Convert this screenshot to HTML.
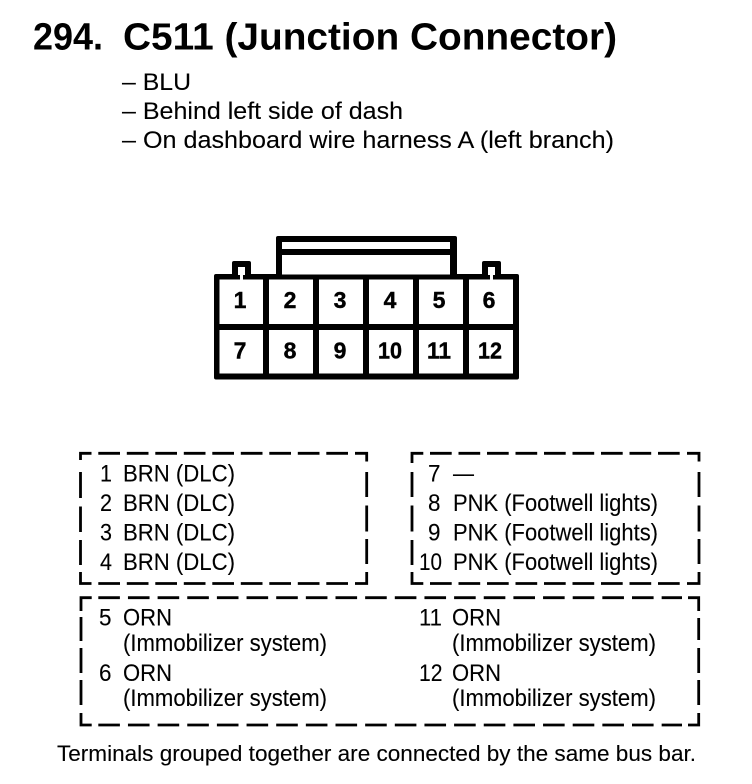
<!DOCTYPE html>
<html><head><meta charset="utf-8"><style>
html,body{margin:0;padding:0;background:#fff}
svg{display:block}
text{font-family:"Liberation Sans",sans-serif;fill:#000;transform:translateY(.8px)}
.t{font-size:24.5px;stroke:#000;stroke-width:.1}
.n{font-size:23px;font-weight:bold;text-anchor:middle;stroke:#000;stroke-width:.4}
.d{fill:none;stroke:#000;stroke-width:2.8}
</style></head><body>
<svg width="752" height="784" viewBox="0 0 752 784" xmlns="http://www.w3.org/2000/svg">
<rect width="752" height="784" fill="#fff"/>
<text x="33" y="48.5" font-size="38" font-weight="bold" textLength="70" lengthAdjust="spacingAndGlyphs">294.</text>
<text x="123" y="48.5" font-size="38" font-weight="bold" textLength="494" lengthAdjust="spacingAndGlyphs">C511 (Junction Connector)</text>
<text class="t" x="122" y="89" textLength="69" lengthAdjust="spacingAndGlyphs">– BLU</text>
<text class="t" x="122" y="118" textLength="281" lengthAdjust="spacingAndGlyphs">– Behind left side of dash</text>
<text class="t" x="122" y="147" textLength="492" lengthAdjust="spacingAndGlyphs">– On dashboard wire harness A (left branch)</text>

<g fill="#000">
<rect x="276" y="236" width="181" height="42" rx="2"/>
<rect x="232" y="261" width="19" height="18" rx="2"/>
<rect x="482" y="261" width="19" height="18" rx="2"/>
<rect x="214" y="274" width="305" height="105.500" rx="2"/>
</g>
<g fill="#fff">
<rect x="282" y="242" width="168" height="7"/>
<rect x="282" y="255" width="168" height="19.500"/>
<rect x="238" y="267" width="7" height="8"/>
<rect x="488" y="267" width="7" height="8"/>
<rect x="240" y="275" width="3" height="5"/>
<rect x="490" y="275" width="3" height="5"/>
<rect x="219.500" y="279.500" width="43.500" height="44.500"/><rect x="269" y="279.500" width="44" height="44.500"/><rect x="319" y="279.500" width="44" height="44.500"/><rect x="369" y="279.500" width="44" height="44.500"/><rect x="419" y="279.500" width="44" height="44.500"/><rect x="469" y="279.500" width="44" height="44.500"/>
<rect x="219.500" y="330" width="43.500" height="43.500"/><rect x="269" y="330" width="44" height="43.500"/><rect x="319" y="330" width="44" height="43.500"/><rect x="369" y="330" width="44" height="43.500"/><rect x="419" y="330" width="44" height="43.500"/><rect x="469" y="330" width="44" height="43.500"/>
</g>
<g>
<text class="n" x="240" y="307">1</text><text class="n" x="290" y="307">2</text><text class="n" x="340" y="307">3</text><text class="n" x="390" y="307">4</text><text class="n" x="439" y="307">5</text><text class="n" x="489" y="307">6</text>
<text class="n" x="240" y="357.500">7</text><text class="n" x="290" y="357.500">8</text><text class="n" x="340" y="357.500">9</text><text class="n" x="390" y="357.500" textLength="24" lengthAdjust="spacingAndGlyphs">10</text><text class="n" x="439" y="357.500" textLength="24" lengthAdjust="spacingAndGlyphs">11</text><text class="n" x="490" y="357.500" textLength="24" lengthAdjust="spacingAndGlyphs">12</text>
</g>

<!-- box 1 -->
<path class="d" d="M91.500 453.300H80.500V460M355 453.300H366.700V461.500M80.500 572V583.500H91.500M355 583.500H366.700V572"/>
<path class="d" d="M98.300 453.300H349M98.300 583.500H349" stroke-dasharray="21.700 6.800"/>
<path class="d" d="M80.500 472V498M80.500 506.500V532M80.500 540V565M366.700 472V497M366.700 505.500V531.500M366.700 539V564"/>
<!-- box 2 -->
<path class="d" d="M423.300 453.300H412V463M687 453.300H699V461.500M412 572V583.500H423.300M687 583.500H699V572"/>
<path class="d" d="M430 453.300H680M430 583.500H680" stroke-dasharray="21.700 6.800"/>
<path class="d" d="M412 472V497M412 505.500V531.500M412 540V565M699 472V497M699 505.500V531.500M699 539V564"/>
<!-- box 3 -->
<path class="d" d="M91.700 597.700H81V611M688 597.700H698.700V611M81 713V725H91.700M688 725H698.700V713"/>
<path class="d" d="M98.300 597.700H682M98.300 725H682" stroke-dasharray="21.600 8.050"/>
<path class="d" d="M81 617V641M81 648V673M81 680V705M698.700 618V640M698.700 648V673M698.700 680V705"/>

<text class="t" x="100" y="480.500" textLength="12" lengthAdjust="spacingAndGlyphs">1</text><text class="t" x="123" y="480.500" textLength="112" lengthAdjust="spacingAndGlyphs">BRN (DLC)</text>
<text class="t" x="100" y="510" textLength="12" lengthAdjust="spacingAndGlyphs">2</text><text class="t" x="123" y="510" textLength="112" lengthAdjust="spacingAndGlyphs">BRN (DLC)</text>
<text class="t" x="100" y="539.500" textLength="12" lengthAdjust="spacingAndGlyphs">3</text><text class="t" x="123" y="539.500" textLength="112" lengthAdjust="spacingAndGlyphs">BRN (DLC)</text>
<text class="t" x="100" y="569" textLength="12" lengthAdjust="spacingAndGlyphs">4</text><text class="t" x="123" y="569" textLength="112" lengthAdjust="spacingAndGlyphs">BRN (DLC)</text>

<text class="t" x="428" y="480.500" textLength="12.500" lengthAdjust="spacingAndGlyphs">7</text><text class="t" x="453" y="480.500" textLength="21" lengthAdjust="spacingAndGlyphs">—</text>
<text class="t" x="428" y="510" textLength="12.500" lengthAdjust="spacingAndGlyphs">8</text><text class="t" x="453" y="510" textLength="205" lengthAdjust="spacingAndGlyphs">PNK (Footwell lights)</text>
<text class="t" x="428" y="539.500" textLength="12.500" lengthAdjust="spacingAndGlyphs">9</text><text class="t" x="453" y="539.500" textLength="205" lengthAdjust="spacingAndGlyphs">PNK (Footwell lights)</text>
<text class="t" x="419" y="569" textLength="23" lengthAdjust="spacingAndGlyphs">10</text><text class="t" x="453" y="569" textLength="205" lengthAdjust="spacingAndGlyphs">PNK (Footwell lights)</text>

<text class="t" x="99" y="624.500" textLength="12.500" lengthAdjust="spacingAndGlyphs">5</text><text class="t" x="123" y="624.500" textLength="49" lengthAdjust="spacingAndGlyphs">ORN</text>
<text class="t" x="123" y="650" textLength="204" lengthAdjust="spacingAndGlyphs">(Immobilizer system)</text>
<text class="t" x="99" y="680" textLength="12.500" lengthAdjust="spacingAndGlyphs">6</text><text class="t" x="123" y="680" textLength="49" lengthAdjust="spacingAndGlyphs">ORN</text>
<text class="t" x="123" y="705" textLength="204" lengthAdjust="spacingAndGlyphs">(Immobilizer system)</text>
<text class="t" x="419" y="624.500" textLength="23" lengthAdjust="spacingAndGlyphs">11</text><text class="t" x="452" y="624.500" textLength="49" lengthAdjust="spacingAndGlyphs">ORN</text>
<text class="t" x="452" y="650" textLength="204" lengthAdjust="spacingAndGlyphs">(Immobilizer system)</text>
<text class="t" x="419" y="680" textLength="23.500" lengthAdjust="spacingAndGlyphs">12</text><text class="t" x="452" y="680" textLength="49" lengthAdjust="spacingAndGlyphs">ORN</text>
<text class="t" x="452" y="705" textLength="204" lengthAdjust="spacingAndGlyphs">(Immobilizer system)</text>

<text x="57" y="760" font-size="22.500" stroke="#000" stroke-width=".1" textLength="639" lengthAdjust="spacingAndGlyphs">Terminals grouped together are connected by the same bus bar.</text>
</svg>
</body></html>
